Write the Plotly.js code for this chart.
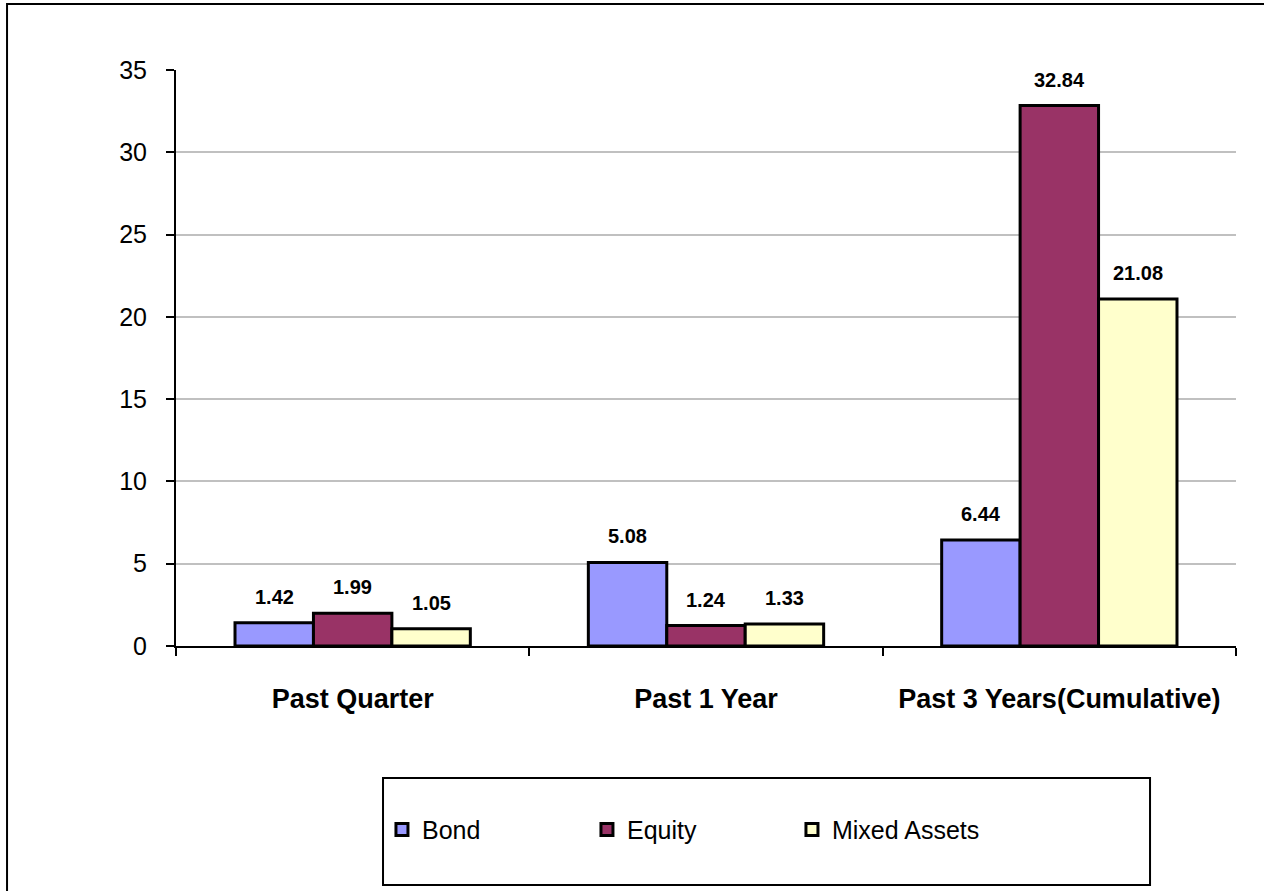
<!DOCTYPE html>
<html>
<head>
<meta charset="utf-8">
<script src="https://cdn.plot.ly/plotly-3.0.1.min.js"></script>
<style>
  html, body { margin: 0; padding: 0; background: #fff; }
  #chart { width: 1264px; height: 891px; }
</style>
</head>
<body>
<div id="chart"></div>
<script>
// ---- data ----
const categories = ["Past Quarter", "Past 1 Year", "Past 3 Years(Cumulative)"];
const seriesNames = ["Bond", "Equity", "Mixed Assets"];
const bondValues = [1.42, 5.08, 6.44];
const equityValues = [1.99, 1.24, 32.84];
const mixedValues = [1.05, 1.33, 21.08];
const seriesColors = ["#9999FF", "#993366", "#FFFFCC"];
const yTickValues = [0, 5, 10, 15, 20, 25, 30, 35];

const allSeries = [bondValues, equityValues, mixedValues];
const FONT = "Arial, 'Liberation Sans', sans-serif";
const BARGAP = 0.334;

const traces = allSeries.map((vals, j) => ({
  type: "bar",
  name: seriesNames[j],
  x: categories,
  y: vals,
  marker: { color: seriesColors[j], line: { color: "#000", width: 3 } },
  hoverinfo: "x+y+name"
}));

// data labels derived from the arrays, positioned via axis scales
const w = (1 - BARGAP) / allSeries.length;
const annotations = [];
allSeries.forEach((vals, j) => {
  vals.forEach((v, i) => {
    annotations.push({
      xref: "x", yref: "y",
      x: i + (j - (allSeries.length - 1) / 2) * w,
      y: v,
      text: "<b>" + v.toFixed(2) + "</b>",
      showarrow: false,
      yanchor: "bottom",
      yshift: 13,
      font: { family: FONT, size: 20, color: "#000" }
    });
  });
});

const layout = {
  width: 1264, height: 891,
  margin: { l: 176, r: 28, t: 70, b: 245 },
  paper_bgcolor: "#fff",
  plot_bgcolor: "#fff",
  barmode: "group",
  bargap: BARGAP,
  bargroupgap: 0,
  showlegend: true,
  legend: {
    orientation: "h",
    x: 0.1943, xanchor: "left",
    y: -0.319, yanchor: "middle",
    font: { family: FONT, size: 25, color: "#000" },
    bgcolor: "rgba(0,0,0,0)",
    borderwidth: 0,
    entrywidth: 160, entrywidthmode: "pixels",
    traceorder: "normal"
  },
  xaxis: {
    type: "category",
    showline: true, linecolor: "#000", linewidth: 2,
    ticks: "outside", tickson: "boundaries", ticklen: 8, tickwidth: 2, tickcolor: "#000",
    tickfont: { family: FONT, size: 27, color: "#000", weight: "bold" },
    ticklabelstandoff: 28,
    showgrid: false, zeroline: false,
    fixedrange: true
  },
  yaxis: {
    range: [0, 35],
    tickvals: yTickValues,
    showline: true, linecolor: "#000", linewidth: 2,
    ticks: "outside", ticklen: 8, tickwidth: 2, tickcolor: "#000",
    tickfont: { family: FONT, size: 25, color: "#000" },
    ticklabelstandoff: 14,
    showgrid: true, gridcolor: "#C0C0C0", gridwidth: 2,
    zeroline: false,
    fixedrange: true
  },
  annotations: annotations,
  shapes: [
    { type: "rect", xref: "paper", yref: "paper", layer: "below",
      x0: -0.1594, x1: 1.2, y0: -0.6, y1: 1.1146,
      line: { color: "#000", width: 2 }, fillcolor: "rgba(0,0,0,0)" },
    { type: "rect", xref: "paper", yref: "paper", layer: "below",
      x0: 0.1953, x1: 0.9189, y0: -0.4149, y1: -0.2292,
      line: { color: "#000", width: 2 }, fillcolor: "rgba(0,0,0,0)" }
  ]
};

Plotly.newPlot("chart", traces, layout, { displayModeBar: false, staticPlot: true });
</script>
</body>
</html>
